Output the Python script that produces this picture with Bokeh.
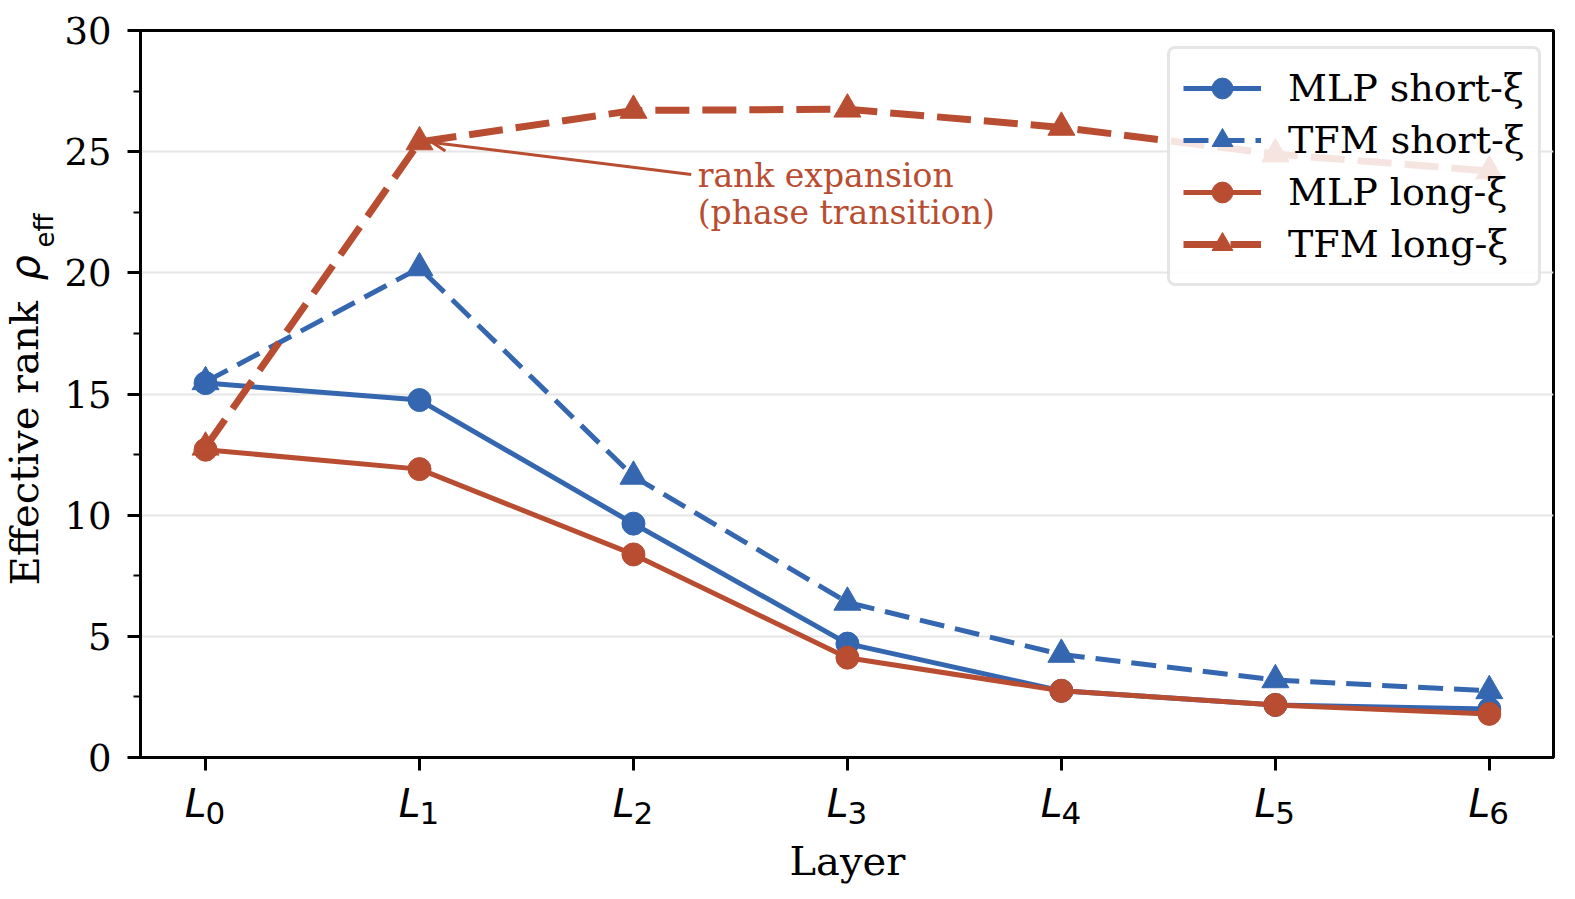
from bokeh.plotting import figure
from bokeh.layouts import row, column
from bokeh.models import (ColumnDataSource, Legend, LegendItem, Label, Arrow,
                          OpenHead, FixedTicker, Range1d)
from bokeh.embed import file_html
from bokeh.resources import INLINE

# Layers and effective-rank values per model / correlation regime
layers = [0, 1, 2, 3, 4, 5, 6]
layer_names = ["0", "1", "2", "3", "4", "5", "6"]
mlp_short = [15.45, 14.75, 9.65, 4.70, 2.75, 2.17, 2.00]
tfm_short = [15.50, 20.20, 11.60, 6.40, 4.25, 3.20, 2.75]
mlp_long = [12.70, 11.90, 8.38, 4.12, 2.75, 2.17, 1.80]
tfm_long = [12.80, 25.40, 26.70, 26.75, 26.00, 24.90, 24.20]

BLUE = "#3467b0"
RED = "#b84d31"
SERIF = "DejaVu Serif"
SANS = "DejaVu Sans"

LEFT_W = 60        # strip holding the rotated y title
BOTTOM_H = 119     # strip holding the x tick labels and the x title
MAIN_W = 1575 - LEFT_W
MAIN_H = 899 - BOTTOM_H


def bare(fig):
    fig.grid.visible = False
    fig.outline_line_color = None
    fig.background_fill_color = "white"
    fig.border_fill_color = "white"
    return fig


# ---- main plot -----------------------------------------------------------
p = figure(width=MAIN_W, height=MAIN_H, output_backend="svg",
           toolbar_location=None,
           x_range=Range1d(-0.304, 6.30), y_range=Range1d(0, 30))
p.min_border_left = 140 - LEFT_W
p.min_border_right = 22
p.min_border_top = 30
p.min_border_bottom = MAIN_H - 757
p.background_fill_color = "white"
p.border_fill_color = "white"
p.outline_line_color = "black"
p.outline_line_width = 3

p.xaxis.ticker = FixedTicker(ticks=layers)
p.xaxis.major_label_overrides = {i: "" for i in layers}
p.xaxis.major_label_text_font_size = "1px"
p.xaxis.major_label_standoff = 0

p.yaxis.ticker = FixedTicker(ticks=[0, 5, 10, 15, 20, 25, 30],
                             minor_ticks=[2.5, 7.5, 12.5, 17.5, 22.5, 27.5])
p.yaxis.major_label_text_font = SERIF
p.yaxis.major_label_text_font_size = "37px"
p.yaxis.major_label_standoff = 16

for ax in (p.xaxis, p.yaxis):
    ax.axis_line_width = 3
    ax.axis_line_color = "black"
    ax.major_tick_line_width = 3
    ax.major_tick_out = 13
    ax.major_tick_in = 0
    ax.minor_tick_line_width = 2
    ax.major_label_text_color = "black"
p.xaxis.minor_tick_out = 0
p.yaxis.minor_tick_out = 7
p.yaxis.minor_tick_in = 0

p.xgrid.grid_line_color = None
p.ygrid.grid_line_color = "#e6e6e6"
p.ygrid.grid_line_width = 2

src = ColumnDataSource(dict(x=layers, mlp_s=mlp_short, tfm_s=tfm_short,
                            mlp_l=mlp_long, tfm_l=tfm_long))

l1 = p.line("x", "mlp_s", source=src, line_color=BLUE, line_width=5)
m1 = p.scatter("x", "mlp_s", source=src, marker="circle", size=23,
               fill_color=BLUE, line_color=BLUE)
l2 = p.line("x", "tfm_s", source=src, line_color=BLUE, line_width=5,
            line_dash="25 11")
m2 = p.scatter("x", "tfm_s", source=src, marker="triangle", size=27,
               fill_color=BLUE, line_color=BLUE)
l3 = p.line("x", "mlp_l", source=src, line_color=RED, line_width=5)
m3 = p.scatter("x", "mlp_l", source=src, marker="circle", size=23,
               fill_color=RED, line_color=RED)
l4 = p.line("x", "tfm_l", source=src, line_color=RED, line_width=7,
            line_dash="34 13")
m4 = p.scatter("x", "tfm_l", source=src, marker="triangle", size=27,
               fill_color=RED, line_color=RED)

legend = Legend(items=[
    LegendItem(label="MLP short-ξ", renderers=[l1, m1]),
    LegendItem(label="TFM short-ξ", renderers=[l2, m2]),
    LegendItem(label="MLP long-ξ", renderers=[l3, m3]),
    LegendItem(label="TFM long-ξ", renderers=[l4, m4]),
], location=(1027, 471))
legend.label_text_font = SERIF
legend.label_text_font_size = "38px"
legend.label_text_color = "black"
legend.glyph_width = 78
legend.glyph_height = 52
legend.spacing = 0
legend.label_standoff = 27
legend.padding = 13
legend.margin = 0
legend.border_line_color = "#cccccc"
legend.border_line_width = 3
legend.border_radius = 8
legend.background_fill_alpha = 0.85
p.add_layout(legend)

# annotation of the transition at L1
p.add_layout(Arrow(end=OpenHead(size=14, line_color=RED, line_width=3),
                   x_start=2.27, y_start=24.06, x_end=1.06, y_end=25.38,
                   line_color=RED, line_width=3))
for txt, yy in (("rank expansion", 24.0), ("(phase transition)", 22.5)):
    p.add_layout(Label(x=2.30, y=yy, text=txt, text_color=RED,
                       text_font=SERIF, text_font_size="33px",
                       text_baseline="middle", text_align="left"))

# ---- bottom strip: x tick labels (italic L, upright index) and x title --
xs = bare(figure(width=MAIN_W, height=BOTTOM_H, output_backend="svg",
                 toolbar_location=None, x_range=p.x_range,
                 y_range=Range1d(0, BOTTOM_H),
                 x_axis_location=None, y_axis_location=None))
xs.min_border_left = 140 - LEFT_W
xs.min_border_right = 22
xs.min_border_top = 0
xs.min_border_bottom = 0
for xv, name in zip(layers, layer_names):
    xs.add_layout(Label(x=xv, y=96, x_offset=1, text="L", text_font=SANS,
                        text_font_style="italic", text_font_size="39px",
                        text_color="black",
                        text_align="right", text_baseline="middle"))
    xs.add_layout(Label(x=xv, y=87, text=name, text_font=SANS,
                        text_font_size="31px", text_color="black",
                        text_align="left", text_baseline="middle"))
xs.add_layout(Label(x=3.0, y=39, text="Layer", text_font=SERIF,
                    text_font_size="40px", text_align="center",
                    text_color="black", text_baseline="middle"))

# ---- left strip: rotated y title "Effective rank ρ_eff" -----------------
ys = bare(figure(width=LEFT_W, height=899, output_backend="svg",
                 toolbar_location=None, x_range=Range1d(0, LEFT_W),
                 y_range=Range1d(0, 899),
                 x_axis_location=None, y_axis_location=None, min_border=0))
ys.add_layout(Label(x=24, y=314, text="Effective rank", angle=1.5708,
                    text_font=SERIF, text_font_size="40px",
                    text_color="black",
                    text_baseline="middle", text_align="left"))
ys.add_layout(Label(x=24, y=619, text="ρ", angle=1.5708,
                    text_font=SANS, text_font_style="italic",
                    text_font_size="40px", text_color="black",
                    text_baseline="middle", text_align="left"))
ys.add_layout(Label(x=44, y=652, text="eff", angle=1.5708,
                    text_font=SANS, text_font_size="26px",
                    text_color="black",
                    text_baseline="middle", text_align="left"))

layout = row(ys, column(p, xs))
open("out.html", "w").write(file_html(layout, INLINE))
